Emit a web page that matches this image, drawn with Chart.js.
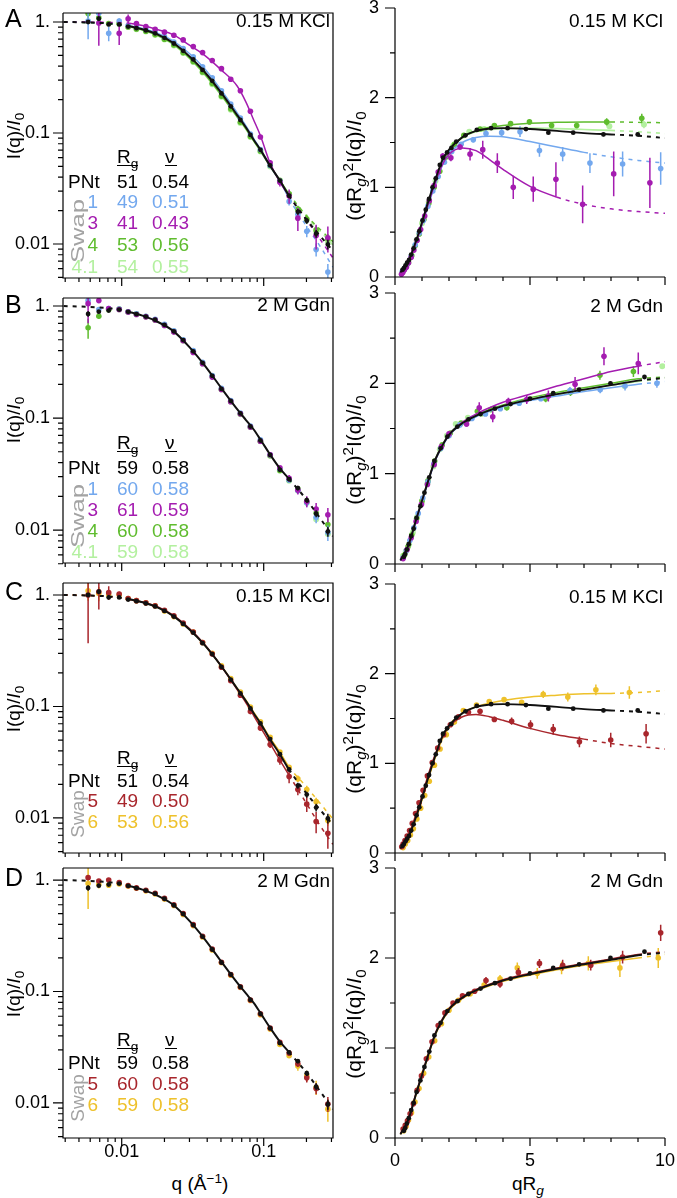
<!DOCTYPE html>
<html lang="en">
<head>
<meta charset="UTF-8">
<title>SAXS profiles and Kratky plots - PNt and swap variants</title>
<script src="https://cdn.jsdelivr.net/npm/chart.js"></script>
<style>
  body { margin: 0; background: #fff; }
  #fig { position: relative; width: 677px; height: 1198px; overflow: hidden; background: #fff;
         font-family: "Liberation Sans", Arial, sans-serif; color: #000; }
  #fig canvas { position: absolute; }
  .t { position: absolute; white-space: nowrap; line-height: 1; }
  .t sub, .t sup { font-size: 72%; line-height: 0; }
  .u { position: absolute; height: 1.4px; }
</style>
</head>
<body>
<div id="fig"></div>
<script>
// ---------- log-log panels (left): q grid and I(q)/I0 values ----------
const qGrid = [0.0058, 0.0069, 0.0081, 0.0096, 0.0111, 0.0127, 0.0148, 0.0172, 0.0200, 0.0233, 0.0271, 0.0319, 0.0371,
               0.0434, 0.0504, 0.0586, 0.0685, 0.0806, 0.0948, 0.111, 0.130, 0.151, 0.174, 0.201, 0.234, 0.283];

// 0.15 M KCl
const iPntKcl = [1.00, 1.07, 0.95, 0.95, 0.91, 0.88, 0.84, 0.79, 0.72, 0.64, 0.55, 0.46, 0.37, 0.295, 0.227, 0.174, 0.131, 0.096, 0.0705, 0.051, 0.0373, 0.0272, 0.0195, 0.0162, 0.0124, 0.0099];
const ePntKcl = [0.04, 0.05, 0.02, 0.01, 0, 0, 0, 0, 0, 0, 0, 0, 0, 0, 0, 0, 0, 0, 0, 0, 0, 0, 0.0012, 0.001, 0.001, 0.001];
const iS1Kcl  = [1.02, 1.20, 0.79, 1.02, 0.93, 0.90, 0.86, 0.81, 0.74, 0.66, 0.575, 0.485, 0.395, 0.315, 0.24, 0.182, 0.136, 0.098, 0.071, 0.051, 0.037, 0.0242, 0.0185, 0.013, 0.0089, 0.0056];
const eS1Kcl  = [0.32, 0.15, 0.12, 0.06, 0.02, 0, 0, 0, 0, 0, 0, 0, 0, 0, 0, 0, 0, 0, 0, 0, 0, 0.002, 0.002, 0.0015, 0.0012, 0.001];
const iS3Kcl  = [null, 0.98, null, 0.79, 1.07, 0.97, 0.91, 0.86, 0.81, 0.76, 0.69, 0.60, 0.53, 0.45, 0.38, 0.305, 0.24, 0.157, 0.092, 0.054, 0.036, 0.027, 0.0171, null, 0.0119, 0.0114];
const eS3Kcl  = [0, 0.37, 0, 0.17, 0.10, 0.03, 0.02, 0, 0, 0, 0, 0, 0, 0, 0, 0, 0, 0, 0.004, 0.003, 0.003, 0.004, 0.004, 0, 0.003, 0.003];
const iS4Kcl  = [1.19, 1.09, 0.97, 0.97, 0.90, 0.865, 0.825, 0.77, 0.70, 0.62, 0.53, 0.44, 0.355, 0.28, 0.215, 0.165, 0.125, 0.093, 0.069, 0.051, 0.0375, 0.0283, 0.0206, 0.0168, 0.0134, 0.0111];
const eS4Kcl  = [0.17, 0.05, 0.04, 0.02, 0, 0, 0, 0, 0, 0, 0, 0, 0, 0, 0, 0, 0, 0, 0, 0, 0, 0.0015, 0.0015, 0.0015, 0.0012, 0.0012];
const iS41Kcl = [null, null, null, 0.96, 0.90, 0.86, 0.82, 0.765, 0.695, 0.615, 0.525, 0.435, 0.35, 0.275, 0.212, 0.162, 0.123, 0.092, 0.068, 0.050, 0.037, 0.028, 0.0205, 0.0165, 0.013, 0.0105];
const iS5Kcl  = [1.00, 1.07, 1.05, 1.02, 0.93, 0.89, 0.85, 0.80, 0.73, 0.65, 0.56, 0.465, 0.375, 0.295, 0.225, 0.17, 0.126, 0.090, 0.064, 0.0455, 0.033, 0.0235, 0.018, 0.0133, 0.0093, 0.0073];
const eS5Kcl  = [0.63, 0.33, 0.15, 0.05, 0, 0, 0, 0, 0, 0, 0, 0, 0, 0, 0, 0, 0, 0, 0, 0.003, 0.003, 0.003, 0.002, 0.002, 0.002, 0.002];
const iS6Kcl  = [1.09, 1.03, 1.00, 1.00, 0.93, 0.89, 0.85, 0.80, 0.72, 0.64, 0.55, 0.465, 0.375, 0.30, 0.232, 0.178, 0.135, 0.099, 0.073, 0.053, 0.039, 0.0285, 0.0225, 0.018, 0.014, 0.0095];
const eS6Kcl  = [0.20, 0.15, 0.06, 0.02, 0, 0, 0, 0, 0, 0, 0, 0, 0, 0, 0, 0, 0, 0, 0, 0, 0, 0, 0.0015, 0.0015, 0.0012, 0.001];

// 2 M Gdn
const iPntGdn = [0.85, 0.89, 0.91, 0.93, 0.888, 0.846, 0.804, 0.755, 0.679, 0.594, 0.496, 0.394, 0.311, 0.238, 0.182, 0.142, 0.110, 0.084, 0.063, 0.0468, 0.0345, 0.0284, 0.0237, 0.0185, 0.0140, 0.0097];
const ePntGdn = [0.05, 0.03, 0.02, 0.01, 0, 0, 0, 0, 0, 0, 0, 0, 0, 0, 0, 0, 0, 0, 0, 0, 0, 0, 0.001, 0.001, 0.001, 0.001];
const iS1Gdn  = [1.12, 0.93, 0.95, 0.94, 0.89, 0.85, 0.81, 0.76, 0.685, 0.60, 0.50, 0.40, 0.315, 0.24, 0.184, 0.143, 0.111, 0.085, 0.064, 0.047, 0.035, 0.028, 0.0225, 0.0175, 0.013, 0.0095];
const eS1Gdn  = [0.08, 0.03, 0.02, 0, 0, 0, 0, 0, 0, 0, 0, 0, 0, 0, 0, 0, 0, 0, 0, 0, 0, 0.0015, 0.0015, 0.0015, 0.0015, 0.0015];
const iS3Gdn  = [1.05, 1.12, 0.95, 0.93, 0.885, 0.84, 0.80, 0.75, 0.67, 0.585, 0.49, 0.385, 0.305, 0.232, 0.18, 0.14, 0.109, 0.083, 0.062, 0.047, 0.036, 0.029, 0.0228, 0.018, 0.0154, 0.0137];
const eS3Gdn  = [0.35, 0.06, 0.02, 0, 0, 0, 0, 0, 0, 0, 0, 0, 0, 0, 0, 0, 0, 0, 0, 0, 0, 0.002, 0.002, 0.002, 0.002, 0.002];
const iS4Gdn  = [0.64, 0.81, 0.93, 0.94, 0.89, 0.85, 0.805, 0.755, 0.68, 0.595, 0.495, 0.395, 0.31, 0.237, 0.181, 0.141, 0.109, 0.083, 0.062, 0.046, 0.034, 0.028, 0.0233, 0.018, 0.0142, 0.0112];
const eS4Gdn  = [0.13, 0.04, 0.02, 0, 0, 0, 0, 0, 0, 0, 0, 0, 0, 0, 0, 0, 0, 0, 0, 0, 0, 0.0015, 0.0015, 0.0015, 0.0015, 0.0015];
const iS41Gdn = [null, null, 0.93, 0.93, 0.885, 0.845, 0.80, 0.75, 0.675, 0.59, 0.49, 0.39, 0.307, 0.235, 0.18, 0.14, 0.108, 0.083, 0.062, 0.046, 0.034, 0.0275, 0.0225, 0.0175, 0.0125, 0.0092];
const iS5Gdn  = [1.05, 0.98, 1.00, 0.95, 0.89, 0.85, 0.81, 0.76, 0.685, 0.60, 0.50, 0.398, 0.313, 0.24, 0.183, 0.142, 0.110, 0.084, 0.063, 0.047, 0.035, 0.028, 0.0225, 0.0168, 0.0135, 0.0098];
const eS5Gdn  = [0.05, 0.04, 0.04, 0.02, 0, 0, 0, 0, 0, 0, 0, 0, 0, 0, 0, 0, 0, 0, 0, 0, 0, 0.0015, 0.0015, 0.0015, 0.0015, 0.0015];
const iS6Gdn  = [0.93, 0.91, 0.90, 0.92, 0.885, 0.845, 0.80, 0.75, 0.675, 0.59, 0.49, 0.39, 0.308, 0.236, 0.181, 0.14, 0.109, 0.083, 0.062, 0.046, 0.0335, 0.0265, 0.0215, 0.0175, 0.0138, 0.0088];
const eS6Gdn  = [0.38, 0.07, 0.05, 0.02, 0, 0, 0, 0, 0, 0, 0, 0, 0, 0, 0, 0, 0, 0, 0, 0, 0, 0, 0.002, 0.002, 0.002, 0.002];

// fitted curves on the log-log panels
const qFit     = [0.0039, 0.005, 0.0065, 0.0085, 0.011, 0.014, 0.018, 0.023, 0.03, 0.038, 0.05, 0.065, 0.075, 0.085, 0.095, 0.11, 0.13, 0.15, 0.2, 0.25, 0.307];
const fPntKcl  = [1.0, 0.995, 0.985, 0.965, 0.92, 0.86, 0.77, 0.65, 0.49, 0.36, 0.232, 0.145, 0.112, 0.087, 0.0705, 0.0515, 0.0373, 0.0275, 0.0166, 0.0118, 0.0087];
const fS1Kcl   = [1.0, 0.995, 0.985, 0.965, 0.93, 0.875, 0.79, 0.675, 0.52, 0.385, 0.245, 0.152, 0.116, 0.089, 0.071, 0.051, 0.037, 0.026, 0.0145, 0.0095, 0.0062];
const fS3Kcl   = [1.0, 1.0, 0.995, 0.99, 0.98, 0.93, 0.85, 0.77, 0.62, 0.506, 0.372, 0.265, 0.19, 0.131, 0.094, 0.055, 0.036, 0.0275, 0.0165, 0.011, 0.0075];
const fS4Kcl   = [1.0, 0.995, 0.985, 0.962, 0.915, 0.85, 0.755, 0.635, 0.475, 0.345, 0.222, 0.14, 0.109, 0.085, 0.069, 0.051, 0.0375, 0.0285, 0.018, 0.0135, 0.0105];
const fS41Kcl  = [1.0, 0.995, 0.985, 0.96, 0.91, 0.845, 0.75, 0.63, 0.47, 0.34, 0.22, 0.139, 0.108, 0.085, 0.068, 0.051, 0.037, 0.028, 0.0175, 0.013, 0.0098];
const fS5Kcl   = [1.0, 0.995, 0.985, 0.965, 0.92, 0.865, 0.78, 0.66, 0.50, 0.365, 0.232, 0.142, 0.108, 0.083, 0.065, 0.0475, 0.033, 0.0245, 0.0135, 0.0085, 0.0058];
const fS6Kcl   = [1.0, 0.995, 0.985, 0.965, 0.92, 0.86, 0.77, 0.65, 0.49, 0.36, 0.233, 0.146, 0.114, 0.089, 0.072, 0.053, 0.039, 0.029, 0.019, 0.0135, 0.0098];
const fPntGdn  = [1.0, 0.99, 0.975, 0.95, 0.89, 0.82, 0.72, 0.60, 0.43, 0.30, 0.187, 0.12, 0.096, 0.079, 0.064, 0.048, 0.0355, 0.0288, 0.0187, 0.0127, 0.0088];

// ---------- Kratky panels (right): [qRg, (qRg)^2 I/I0, error] ----------
const kPntKcl = [[0.28,0.08],[0.33,0.10],[0.39,0.13],[0.45,0.16],[0.52,0.19],[0.60,0.25],[0.69,0.32],[0.80,0.42],[0.90,0.51],[1.02,0.63],
  [1.14,0.75],[1.26,0.87],[1.39,1.00],[1.51,1.10],[1.66,1.25],[1.78,1.33],[1.93,1.39],[2.09,1.44],[2.27,1.51],[2.61,1.58],
  [3.03,1.64],[3.56,1.66],[4.17,1.66,0.01],[4.85,1.65,0.01],[5.68,1.61,0.015],[6.60,1.61,0.015],[7.72,1.59,0.02],[8.99,1.59,0.02]];
const kS1Kcl = [[0.27,0.06],[0.36,0.10],[0.47,0.15],[0.60,0.23],[0.75,0.36],[0.90,0.49],[1.05,0.63],[1.22,0.79],[1.40,0.96],[1.60,1.12],
  [1.83,1.28],[2.10,1.40],[2.45,1.48],[2.90,1.53,0.03],[3.37,1.60,0.04],[3.95,1.61,0.05],[4.63,1.62,0.06],[5.35,1.41,0.07],
  [6.21,1.37,0.08],[7.22,1.27,0.11],[8.43,1.26,0.14],[9.84,1.21,0.18]];
const kS3Kcl = [[0.24,0.03],[0.29,0.05],[0.35,0.08],[0.42,0.11],[0.50,0.16],[0.60,0.22],[0.70,0.30],[0.82,0.41],[0.95,0.53],[1.10,0.68],
  [1.27,0.85],[1.45,1.02],[1.60,1.17],[1.77,1.35,0.03],[2.07,1.33,0.04],[2.41,1.45,0.03],[2.78,1.37,0.07],[3.25,1.42,0.10],
  [3.79,1.27,0.11],[4.38,1.00,0.13],[5.12,0.98,0.14],[5.96,1.09,0.19],[6.95,0.81,0.21],[8.10,1.15,0.25],[9.44,1.05,0.28]];
const kS4Kcl = [[0.30,0.07],[0.40,0.11],[0.50,0.16],[0.62,0.24],[0.75,0.35],[0.90,0.48],[1.07,0.64],[1.25,0.82],[1.45,1.00],[1.66,1.18],
  [1.90,1.34],[2.20,1.48],[2.55,1.58],[3.15,1.65,0.02],[3.68,1.69,0.02],[4.28,1.71,0.03],[4.98,1.73,0.03],[5.80,1.69,0.03],
  [6.73,1.69,0.03],[7.84,1.73,0.04],[9.14,1.77,0.05]];
const kS41Kcl = [[0.32,0.08],[0.45,0.14],[0.60,0.23],[0.80,0.41],[1.00,0.60],[1.25,0.84],[1.50,1.07],[1.80,1.30],[2.15,1.46],[2.75,1.62],
  [3.30,1.65],[7.94,1.68,0.03],[9.22,1.70,0.04]];
const kS5Kcl = [[0.25,0.07],[0.30,0.10],[0.37,0.14],[0.45,0.19],[0.54,0.25],[0.64,0.33],[0.76,0.44],[0.89,0.56],[1.04,0.70],[1.20,0.86],
  [1.38,1.01],[1.58,1.17],[1.80,1.32],[2.05,1.43],[2.35,1.52],[2.72,1.57],[3.15,1.58,0.03],[3.68,1.49,0.03],[4.32,1.47,0.04],
  [5.02,1.43,0.05],[5.86,1.38,0.06],[6.83,1.24,0.06],[7.99,1.26,0.08],[9.30,1.33,0.11]];
const kS6Kcl = [[0.30,0.06],[0.38,0.10],[0.47,0.14],[0.57,0.20],[0.68,0.27],[0.81,0.38],[0.95,0.50],[1.10,0.64],[1.27,0.80],[1.46,0.98],
  [1.67,1.16],[1.90,1.32],[2.20,1.46],[2.53,1.59],[3.02,1.65],[3.49,1.69,0.02],[4.04,1.71,0.02],[4.69,1.68,0.02],[5.49,1.77,0.04],
  [6.40,1.74,0.05],[7.44,1.82,0.06],[8.68,1.79,0.07]];

const kPntGdn = [[0.33,0.08],[0.38,0.11],[0.44,0.16],[0.51,0.22],[0.60,0.31],[0.69,0.39],[0.80,0.51],[0.94,0.64],[1.09,0.79],[1.27,0.96],
  [1.46,1.14],[1.69,1.28],[1.94,1.41],[2.31,1.52],[2.72,1.60],[3.17,1.66],[3.70,1.72],[4.28,1.77],[5.00,1.83,0.01],[5.86,1.89,0.01],
  [6.82,1.93,0.015],[7.98,2.00,0.02],[9.24,2.07,0.02]];
const kS1Gdn = [[0.30,0.07],[0.42,0.15],[0.55,0.26],[0.70,0.40],[0.86,0.56],[1.03,0.73],[1.22,0.91],[1.44,1.11],[1.70,1.28],[2.00,1.42],
  [2.40,1.54],[2.85,1.61],[3.35,1.66],[3.90,1.72],[4.60,1.78],[5.40,1.83],[6.48,1.92,0.04],[7.60,1.93,0.04],[8.52,1.97,0.05],[9.70,2.00,0.05]];
const kS3Gdn = [[0.30,0.06],[0.45,0.16],[0.60,0.29],[0.78,0.47],[0.98,0.66],[1.20,0.88],[1.45,1.10],[1.72,1.30],[2.00,1.44],[2.65,1.55,0.03],
  [3.12,1.73,0.06],[3.62,1.63,0.06],[4.20,1.80,0.04],[4.88,1.82,0.05],[5.68,1.86,0.06],[6.67,1.99,0.08],[7.74,2.30,0.10],[9.01,2.22,0.12]];
const kS4Gdn = [[0.35,0.10],[0.48,0.19],[0.62,0.32],[0.80,0.50],[1.00,0.70],[1.22,0.92],[1.47,1.14],[1.75,1.32],[2.05,1.45],[2.45,1.56],
  [3.05,1.69,0.03],[3.55,1.71,0.03],[4.14,1.73,0.03],[5.58,1.83,0.04],[6.50,1.90,0.04],[7.59,2.09,0.05],[8.83,2.13,0.06]];
const kS41Gdn = [[0.30,0.09],[0.40,0.14],[0.52,0.22],[0.66,0.35],[0.82,0.52],[1.00,0.69],[1.20,0.89],[1.42,1.08],[1.66,1.27],[1.92,1.42],
  [2.25,1.55],[2.70,1.62],[3.20,1.66],[8.50,1.97],[9.90,2.19]];
const kS5Gdn = [[0.30,0.10],[0.38,0.14],[0.46,0.19],[0.56,0.27],[0.68,0.38],[0.82,0.53],[0.98,0.69],[1.16,0.88],[1.37,1.07],[1.60,1.25],
  [1.85,1.39],[2.15,1.50],[2.50,1.58],[2.95,1.63],[3.37,1.75,0.04],[3.89,1.71,0.04],[4.57,1.84,0.05],[5.35,1.94,0.05],[6.21,1.92,0.06],
  [7.25,1.92,0.06],[8.43,2.01,0.07],[9.84,2.28,0.09]];
const kS6Gdn = [[0.32,0.08],[0.41,0.13],[0.50,0.20],[0.61,0.28],[0.74,0.40],[0.89,0.55],[1.06,0.72],[1.25,0.90],[1.47,1.08],[1.72,1.27],
  [2.00,1.42],[2.35,1.53],[2.78,1.60],[3.30,1.70,0.03],[3.89,1.77,0.04],[4.53,1.89,0.06],[5.27,1.83,0.06],[6.17,1.89,0.07],[7.16,1.94,0.08],
  [8.33,1.89,0.10],[9.75,2.00,0.11]];

// fitted Kratky curves, common qRg grid
const kFitX    = [0.2, 0.5, 0.8, 1.0, 1.25, 1.5, 1.75, 2.0, 2.5, 3.0, 3.5, 4.0, 5.0, 6.0, 7.0, 8.0, 9.0, 10.0];
const fkPntKcl = [0.05, 0.18, 0.42, 0.61, 0.86, 1.09, 1.30, 1.42, 1.56, 1.63, 1.655, 1.66, 1.65, 1.63, 1.605, 1.59, 1.575, 1.55];
const fkS1Kcl  = [0.04, 0.17, 0.40, 0.58, 0.82, 1.04, 1.24, 1.37, 1.50, 1.555, 1.57, 1.565, 1.51, 1.45, 1.39, 1.34, 1.30, 1.27];
const fkS3Kcl  = [0.03, 0.16, 0.40, 0.59, 0.83, 1.06, 1.25, 1.37, 1.44, 1.41, 1.31, 1.20, 1.01, 0.89, 0.81, 0.76, 0.73, 0.71];
const fkS4Kcl  = [0.04, 0.17, 0.40, 0.59, 0.83, 1.06, 1.26, 1.40, 1.56, 1.63, 1.67, 1.69, 1.715, 1.725, 1.73, 1.73, 1.725, 1.72];
const fkS41Kcl = [0.05, 0.18, 0.42, 0.61, 0.85, 1.08, 1.28, 1.41, 1.56, 1.62, 1.645, 1.655, 1.66, 1.655, 1.645, 1.635, 1.62, 1.60];
const fkS5Kcl  = [0.05, 0.20, 0.45, 0.64, 0.89, 1.11, 1.29, 1.41, 1.52, 1.545, 1.52, 1.48, 1.39, 1.32, 1.27, 1.22, 1.19, 1.16];
const fkS6Kcl  = [0.04, 0.17, 0.40, 0.59, 0.84, 1.07, 1.27, 1.40, 1.56, 1.63, 1.67, 1.70, 1.74, 1.76, 1.775, 1.78, 1.79, 1.81];
const fkPntGdn = [0.04, 0.21, 0.51, 0.70, 0.94, 1.16, 1.31, 1.43, 1.56, 1.64, 1.70, 1.75, 1.82, 1.88, 1.93, 1.98, 2.03, 2.06];
const fkS1Gdn  = [0.04, 0.21, 0.50, 0.69, 0.93, 1.15, 1.30, 1.42, 1.55, 1.63, 1.69, 1.74, 1.81, 1.86, 1.91, 1.95, 1.99, 2.02];
const fkS3Gdn  = [0.04, 0.21, 0.51, 0.70, 0.94, 1.16, 1.31, 1.43, 1.57, 1.66, 1.73, 1.79, 1.88, 1.97, 2.05, 2.13, 2.19, 2.24];
const fkS4Gdn  = [0.04, 0.21, 0.51, 0.70, 0.94, 1.16, 1.31, 1.43, 1.56, 1.645, 1.71, 1.76, 1.84, 1.90, 1.95, 2.00, 2.05, 2.07];
const fkS41Gdn = [0.05, 0.22, 0.52, 0.71, 0.95, 1.17, 1.32, 1.44, 1.57, 1.645, 1.70, 1.75, 1.82, 1.88, 1.93, 1.98, 2.02, 2.06];
const fkS5Gdn  = [0.05, 0.22, 0.52, 0.71, 0.95, 1.17, 1.32, 1.44, 1.57, 1.65, 1.71, 1.76, 1.83, 1.89, 1.94, 1.99, 2.04, 2.07];
const fkS6Gdn  = [0.04, 0.21, 0.50, 0.69, 0.93, 1.15, 1.30, 1.42, 1.55, 1.63, 1.69, 1.74, 1.81, 1.87, 1.92, 1.96, 2.00, 2.04];

// ---------- ticks ----------
const logXTicks = [0.004, 0.005, 0.006, 0.007, 0.008, 0.009, 0.01, 0.02, 0.03, 0.04, 0.05, 0.06, 0.07, 0.08, 0.09, 0.1, 0.2, 0.3];
const logYTicks = [0.005, 0.006, 0.007, 0.008, 0.009, 0.01, 0.02, 0.03, 0.04, 0.05, 0.06, 0.07, 0.08, 0.09, 0.1, 0.2, 0.3, 0.4, 0.5, 0.6, 0.7, 0.8, 0.9, 1];
const logXMajor = [0.01, 0.1];
const logYMajor = [0.01, 0.1, 1];
const logXLabels = { 0.01: '0.01', 0.1: '0.1' };
const logYLabels = { 1: '1.', 0.1: '0.1', 0.01: '0.01' };
const kXTicks = [0, 1, 2, 3, 4, 5, 6, 7, 8, 9, 10];
const kYTicks = [0, 0.5, 1, 1.5, 2, 2.5, 3];
const kXMajor = [0, 5, 10];
const kYMajor = [0, 1, 2, 3];
const kXLabels = { 0: '0', 5: '5', 10: '10' };
const kYLabels = { 0: '0', 1: '1', 2: '2', 3: '3' };

// legend tables: [label, Rg, nu]
const pntKcl = ['51', '0.54'];
const pntGdn = ['59', '0.58'];
const legA = [['1', '49', '0.51'], ['3', '41', '0.43'], ['4', '53', '0.56'], ['4.1', '54', '0.55']];
const legB = [['1', '60', '0.58'], ['3', '61', '0.59'], ['4', '60', '0.58'], ['4.1', '59', '0.58']];
const legC = [['5', '49', '0.50'], ['6', '53', '0.56']];
const legD = [['5', '60', '0.58'], ['6', '59', '0.58']];

const COL = { pnt: '#111111', s1: '#73a8ee', s3: '#a41cb0', s4: '#5fbc2e', s41: '#b3f09f', s5: '#a8262c', s6: '#eec12b' };
const DASH = [4, 5];

Chart.defaults.font.family = '"Liberation Sans", Arial, sans-serif';
Chart.defaults.font.size = 18;
Chart.defaults.color = '#000';

const fig = document.getElementById('fig');

// vertical error bars, drawn under each dataset's markers
const errorBars = {
  id: 'errorBars',
  beforeDatasetDraw(chart, args) {
    const ds = chart.data.datasets[args.index];
    if (!ds.errors) return;
    const { ctx, chartArea: a, scales: { y } } = chart;
    ctx.save();
    ctx.beginPath();
    ctx.rect(a.left, a.top, a.right - a.left, a.bottom - a.top);
    ctx.clip();
    ctx.strokeStyle = ds.backgroundColor;
    ctx.lineWidth = 1.5;
    ctx.beginPath();
    args.meta.data.forEach((pt, i) => {
      const e = ds.errors[i];
      if (!e) return;
      const v = ds.data[i].y;
      const lo = Math.max(v - e, y.min * 0.5);
      ctx.moveTo(pt.x, y.getPixelForValue(v + e));
      ctx.lineTo(pt.x, y.getPixelForValue(lo));
    });
    ctx.stroke();
    ctx.restore();
  }
};

// axis lines, outward tick marks (long majors, short minors), optional box frame
const panelAxes = {
  id: 'panelAxes',
  afterDraw(chart, args, o) {
    const { ctx, chartArea: a, scales: { x, y } } = chart;
    ctx.save();
    ctx.strokeStyle = '#000';
    ctx.lineWidth = 1.2;
    ctx.beginPath();
    ctx.moveTo(a.left, a.top);
    ctx.lineTo(a.left, a.bottom);
    ctx.lineTo(a.right, a.bottom);
    if (o.frame) { ctx.lineTo(a.right, a.top); ctx.lineTo(a.left, a.top); }
    o.xTicks.forEach(v => {
      const px = x.getPixelForValue(v);
      ctx.moveTo(px, a.bottom);
      ctx.lineTo(px, a.bottom + (o.xMajor.includes(v) ? 8 : 4));
    });
    o.yTicks.forEach(v => {
      const py = y.getPixelForValue(v);
      ctx.moveTo(a.left, py);
      ctx.lineTo(a.left - (o.yMajor.includes(v) ? 10 : 5), py);
    });
    ctx.stroke();
    ctx.restore();
  }
};

function pointSet(xs, ys, es, color, r, order) {
  const data = [], errors = [];
  xs.forEach((x, i) => {
    if (ys[i] == null) return;
    data.push({ x: x, y: ys[i] });
    errors.push(es ? es[i] : 0);
  });
  return { data, errors, backgroundColor: color, pointBackgroundColor: color, pointBorderWidth: 0,
           pointRadius: r, showLine: false, order };
}
function tripleSet(arr, color, r, order) {
  return pointSet(arr.map(p => p[0]), arr.map(p => p[1]), arr.map(p => p[2] || 0), color, r, order);
}
function fitSet(xs, ys, lo, hi, color, w, order) {
  return {
    data: xs.map((x, i) => ({ x: x, y: ys[i] })),
    showLine: true, borderColor: color, borderWidth: w, pointRadius: 0,
    cubicInterpolationMode: 'monotone', order,
    segment: { borderDash: c => (c.p0.parsed.x < lo - 1e-9 || c.p1.parsed.x > hi + 1e-9) ? DASH : undefined }
  };
}

function noPad(s) { s.paddingLeft = 0; s.paddingRight = 0; s.paddingTop = 0; s.paddingBottom = 0; }

function panel(p) {
  const c = document.createElement('canvas');
  c.width = p.w; c.height = p.h;
  c.style.left = p.left + 'px';
  c.style.top = p.top + 'px';
  fig.appendChild(c);
  new Chart(c, {
    type: 'scatter',
    data: { datasets: p.datasets },
    options: {
      responsive: false, animation: false, events: [],
      layout: { autoPadding: false, padding: { top: p.padTop, right: p.padRight, left: 0, bottom: 0 } },
      plugins: {
        legend: { display: false }, tooltip: { enabled: false },
        panelAxes: { xTicks: p.xTicks, yTicks: p.yTicks, xMajor: p.xMajor, yMajor: p.yMajor, frame: p.frame }
      },
      scales: {
        x: {
          type: p.xType, min: p.xMin, max: p.xMax, bounds: 'data', position: 'bottom',
          grid: { display: false, drawTicks: false }, border: { display: false },
          ticks: { autoSkip: false, maxRotation: 0, padding: p.xPad,
                   callback: v => (p.xLabels && p.xLabels[v]) || '' },
          afterBuildTicks: s => { s.ticks = p.xTicks.map(v => ({ value: v })); },
          afterFit: s => { s.height = p.xAxisH; noPad(s); }
        },
        y: {
          type: p.yType, min: p.yMin, max: p.yMax, bounds: 'data', position: 'left',
          grid: { display: false, drawTicks: false }, border: { display: false },
          ticks: { autoSkip: false, padding: p.yPad, callback: v => p.yLabels[v] || '' },
          afterBuildTicks: s => { s.ticks = p.yTicks.map(v => ({ value: v })); },
          afterFit: s => { s.width = p.yAxisW; noPad(s); }
        }
      }
    },
    plugins: [errorBars, panelAxes]
  });
}

function logPanel(top, h, plotTop, plotBottom, yMin, yMax, withLabels, datasets) {
  panel({ left: 0, top, w: 340, h, padTop: plotTop - top, padRight: 7, yAxisW: 63, xAxisH: top + h - plotBottom,
    xType: 'logarithmic', yType: 'logarithmic', xMin: 0.00386, xMax: 0.3076, yMin, yMax,
    xTicks: logXTicks, yTicks: logYTicks, xMajor: logXMajor, yMajor: logYMajor,
    xLabels: withLabels ? logXLabels : null, yLabels: logYLabels, xPad: 3, yPad: 13, frame: true, datasets });
}
function kratkyPanel(top, h, plotTop, plotBottom, withLabels, datasets) {
  panel({ left: 340, top, w: 337, h, padTop: plotTop - top, padRight: 12, yAxisW: 55, xAxisH: top + h - plotBottom,
    xType: 'linear', yType: 'linear', xMin: 0, xMax: 10, yMin: 0, yMax: 3,
    xTicks: kXTicks, yTicks: kYTicks, xMajor: kXMajor, yMajor: kYMajor,
    xLabels: withLabels ? kXLabels : null, yLabels: kYLabels, xPad: 12, yPad: 16, frame: false, datasets });
}

// ---------- A ----------
logPanel(0, 290, 13, 278, 0.00494, 1.205, false, [
  pointSet(qGrid, iPntKcl, ePntKcl, COL.pnt, 2.4, 1),
  fitSet(qFit, fPntKcl, 0.0092, 0.152, COL.pnt, 2, 2),
  pointSet(qGrid, iS3Kcl, eS3Kcl, COL.s3, 2.8, 3),
  fitSet(qFit, fS3Kcl, 0.0105, 0.152, COL.s3, 1.5, 4),
  pointSet(qGrid, iS1Kcl, eS1Kcl, COL.s1, 2.8, 5),
  fitSet(qFit, fS1Kcl, 0.0105, 0.152, COL.s1, 1.5, 6),
  pointSet(qGrid, iS4Kcl, eS4Kcl, COL.s4, 2.8, 7),
  fitSet(qFit, fS4Kcl, 0.0105, 0.152, COL.s4, 1.5, 8),
  pointSet(qGrid, iS41Kcl, null, COL.s41, 3, 9),
  fitSet(qFit, fS41Kcl, 0.0105, 0.152, COL.s41, 1.7, 10)
]);
kratkyPanel(0, 289, 8, 277, false, [
  tripleSet(kPntKcl, COL.pnt, 2.4, 1),
  fitSet(kFitX, fkPntKcl, 0, 8, COL.pnt, 1.9, 2),
  tripleSet(kS3Kcl, COL.s3, 2.8, 3),
  fitSet(kFitX, fkS3Kcl, 0, 6, COL.s3, 1.5, 4),
  tripleSet(kS1Kcl, COL.s1, 2.8, 5),
  fitSet(kFitX, fkS1Kcl, 0, 7, COL.s1, 1.5, 6),
  tripleSet(kS4Kcl, COL.s4, 2.8, 7),
  fitSet(kFitX, fkS4Kcl, 0, 8, COL.s4, 1.5, 8),
  tripleSet(kS41Kcl, COL.s41, 3, 9),
  fitSet(kFitX, fkS41Kcl, 0, 8, COL.s41, 1.7, 10)
]);

// ---------- B ----------
logPanel(288, 287, 298, 563, 0.00508, 1.179, false, [
  pointSet(qGrid, iPntGdn, ePntGdn, COL.pnt, 2.4, 1),
  fitSet(qFit, fPntGdn, 0.0105, 0.152, COL.pnt, 2, 2),
  pointSet(qGrid, iS3Gdn, eS3Gdn, COL.s3, 2.8, 3),
  pointSet(qGrid, iS1Gdn, eS1Gdn, COL.s1, 2.8, 5),
  pointSet(qGrid, iS4Gdn, eS4Gdn, COL.s4, 2.8, 7),
  pointSet(qGrid, iS41Gdn, null, COL.s41, 3, 9)
]);
kratkyPanel(283, 293, 293, 564, false, [
  tripleSet(kPntGdn, COL.pnt, 2.4, 1),
  fitSet(kFitX, fkPntGdn, 0, 9, COL.pnt, 1.9, 2),
  tripleSet(kS3Gdn, COL.s3, 2.8, 3),
  fitSet(kFitX, fkS3Gdn, 0, 9, COL.s3, 1.5, 4),
  tripleSet(kS1Gdn, COL.s1, 2.8, 5),
  fitSet(kFitX, fkS1Gdn, 0, 9, COL.s1, 1.5, 6),
  tripleSet(kS4Gdn, COL.s4, 2.8, 7),
  fitSet(kFitX, fkS4Gdn, 0, 9, COL.s4, 1.5, 8),
  tripleSet(kS41Gdn, COL.s41, 3, 9),
  fitSet(kFitX, fkS41Gdn, 0, 9, COL.s41, 1.7, 10)
]);

// ---------- C ----------
logPanel(573, 292, 583, 853, 0.00485, 1.281, false, [
  pointSet(qGrid, iPntKcl, ePntKcl, COL.pnt, 2.4, 1),
  fitSet(qFit, fPntKcl, 0.0092, 0.152, COL.pnt, 2, 2),
  pointSet(qGrid, iS5Kcl, eS5Kcl, COL.s5, 2.8, 3),
  fitSet(qFit, fS5Kcl, 0.0105, 0.152, COL.s5, 1.5, 4),
  pointSet(qGrid, iS6Kcl, eS6Kcl, COL.s6, 2.8, 5),
  fitSet(qFit, fS6Kcl, 0.0105, 0.152, COL.s6, 1.5, 6)
]);
kratkyPanel(574, 291, 584, 853, false, [
  tripleSet(kPntKcl, COL.pnt, 2.4, 1),
  fitSet(kFitX, fkPntKcl, 0, 8, COL.pnt, 1.9, 2),
  tripleSet(kS5Kcl, COL.s5, 2.8, 3),
  fitSet(kFitX, fkS5Kcl, 0, 7, COL.s5, 1.5, 4),
  tripleSet(kS6Kcl, COL.s6, 2.8, 5),
  fitSet(kFitX, fkS6Kcl, 0, 8, COL.s6, 1.5, 6)
]);

// ---------- D ----------
logPanel(858, 310, 868, 1138, 0.00485, 1.282, true, [
  pointSet(qGrid, iPntGdn, ePntGdn, COL.pnt, 2.4, 1),
  fitSet(qFit, fPntGdn, 0.0105, 0.152, COL.pnt, 2, 2),
  pointSet(qGrid, iS5Gdn, eS5Gdn, COL.s5, 2.8, 3),
  pointSet(qGrid, iS6Gdn, eS6Gdn, COL.s6, 2.8, 5)
]);
kratkyPanel(858, 310, 868, 1138, true, [
  tripleSet(kPntGdn, COL.pnt, 2.4, 1),
  fitSet(kFitX, fkPntGdn, 0, 9, COL.pnt, 1.9, 2),
  tripleSet(kS5Gdn, COL.s5, 2.8, 3),
  fitSet(kFitX, fkS5Gdn, 0, 9, COL.s5, 1.5, 4),
  tripleSet(kS6Gdn, COL.s6, 2.8, 5),
  fitSet(kFitX, fkS6Gdn, 0, 9, COL.s6, 1.5, 6)
]);

// ---------- text ----------
function txt(html, x, base, size, color, align) {
  const d = document.createElement('div');
  d.className = 't';
  d.innerHTML = html;
  d.style.fontSize = size + 'px';
  d.style.left = x + 'px';
  d.style.top = (base - 0.847 * size) + 'px';
  if (color) d.style.color = color;
  if (align === 'right') d.style.transform = 'translateX(-100%)';
  if (align === 'center') d.style.transform = 'translateX(-50%)';
  fig.appendChild(d);
}
function vtxt(html, cx, cy, size, color, stretch) {
  const d = document.createElement('div');
  d.className = 't';
  d.innerHTML = html;
  d.style.fontSize = size + 'px';
  d.style.left = cx + 'px';
  d.style.top = cy + 'px';
  d.style.transform = 'translate(-50%, -50%) rotate(-90deg) scale(' + (stretch || 1) + ', 1)';
  if (color) d.style.color = color;
  fig.appendChild(d);
}
function uline(x, y, w) {
  const d = document.createElement('div');
  d.className = 'u';
  d.style.left = x + 'px'; d.style.top = y + 'px'; d.style.width = w + 'px';
  d.style.background = '#000';
  fig.appendChild(d);
}
function legendTable(hdrBase, pntBase, rowBases, swapCy, swapStretch, pnt, rows, colors) {
  txt('R<sub>g</sub>', 117, hdrBase, 19);
  uline(117, hdrBase + 2, 21);
  txt('\u03bd', 165, hdrBase, 19);
  uline(165, hdrBase + 2, 12);
  txt('PNt', 68, pntBase, 19);
  txt(pnt[0], 117, pntBase, 19);
  txt(pnt[1], 152, pntBase, 19);
  rows.forEach((r, i) => {
    txt(r[0], 98, rowBases[i], 19, colors[i], 'right');
    txt(r[1], 117, rowBases[i], 19, colors[i]);
    txt(r[2], 152, rowBases[i], 19, colors[i]);
  });
  vtxt('Swap', 77, swapCy, 19, '#a3a3a3', swapStretch);
}

txt('A', 5, 26.7, 25); txt('B', 5, 313.3, 25); txt('C', 5, 600, 25); txt('D', 5, 885.7, 25);

txt('0.15 M KCl', 330, 27, 19, null, 'right');
txt('0.15 M KCl', 663, 27, 19, null, 'right');
txt('2 M Gdn', 330, 311, 19, null, 'right');
txt('2 M Gdn', 663, 312, 19, null, 'right');
txt('0.15 M KCl', 330, 602, 19, null, 'right');
txt('0.15 M KCl', 663, 603, 19, null, 'right');
txt('2 M Gdn', 330, 887, 19, null, 'right');
txt('2 M Gdn', 663, 887, 19, null, 'right');

const fourCols = [COL.s1, COL.s3, COL.s4, COL.s41];
const twoCols = [COL.s5, COL.s6];
legendTable(162.7, 188.3, [208.3, 229.3, 250.7, 272.7], 230.5, 1.35, pntKcl, legA, fourCols);
legendTable(449, 474.3, [495, 516, 536.7, 558.3], 516, 1.35, pntGdn, legB, fourCols);
legendTable(763.7, 786.7, [807.3, 828.3], 814, 1, pntKcl, legC, twoCols);
legendTable(1046, 1069.3, [1090, 1111], 1097.5, 1, pntGdn, legD, twoCols);

const lTitle = 'I(q)/<i>I</i><sub>0</sub>';
const rTitle = '(qR<sub><i>g</i></sub>)<sup>2</sup>I(q)/<i>I</i><sub>0</sub>';
[136, 420, 709, 994].forEach(cy => vtxt(lTitle, 13, cy, 19));
[166, 450, 739, 1024].forEach(cy => vtxt(rTitle, 353, cy, 21));
txt('q (\u00c5<sup>\u22121</sup>)', 200, 1190, 19, null, 'center');
txt('qR<sub><i>g</i></sub>', 528, 1190, 19, null, 'center');
</script>
</body>
</html>
